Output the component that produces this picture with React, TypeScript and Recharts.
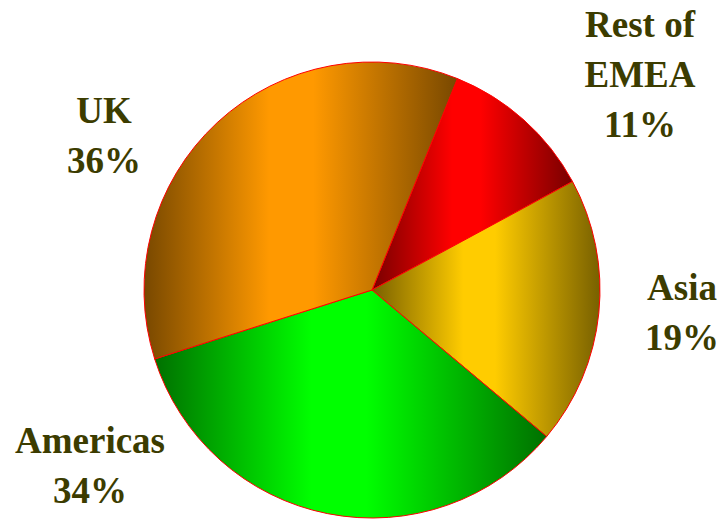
import { PieChart, Pie, Cell } from "recharts"

// regions, clockwise from the top
const regions = ["Rest of\nEMEA", "Asia", "Americas", "UK"]
const shares = [11, 19, 34, 36]

const brightColors = ["#FF0000", "#FFCC00", "#00FF00", "#FF9900"]
const darkColors = ["#780000", "#786000", "#007000", "#784800"]

// label anchor relative to pie centre: [dx, first baseline dy]
const labelOffsets = [
    [268, -253],
    [310, 10],
    [-282, 163],
    [-268, -167],
]

const data = regions.map((name, i) => ({ name, value: shares[i] }))

const renderLabel = (props: any) => {
    const { cx, cy, index, percent, name } = props
    const [dx, dy] = labelOffsets[index]
    const lines = [...String(name).split("\n"), `${Math.round(percent * 100)}%`]
    return (
        <text
            x={cx + dx}
            y={cy + dy}
            textAnchor="middle"
            fill="#3C3C00"
            fontFamily="'Liberation Serif', 'Times New Roman', serif"
            fontWeight="bold"
            fontSize={37}
        >
            {lines.map((line, i) => (
                <tspan key={i} x={cx + dx} dy={i === 0 ? 0 : 50}>
                    {line}
                </tspan>
            ))}
        </text>
    )
}

export default function App() {
    return (
        <div style={{ position: "absolute", left: 0, top: 0, width: 728, height: 519, background: "#fff" }}>
            <PieChart width={728} height={519} margin={{ top: 0, right: 0, bottom: 0, left: 0 }}>
                <defs>
                    {regions.map((_, i) => (
                        <linearGradient key={i} id={`slice-${i}`} x1="0" y1="0" x2="1" y2="0">
                            <stop offset="0%" stopColor={darkColors[i]} />
                            <stop offset="40%" stopColor={brightColors[i]} />
                            <stop offset="54%" stopColor={brightColors[i]} />
                            <stop offset="100%" stopColor={darkColors[i]} />
                        </linearGradient>
                    ))}
                </defs>
                <Pie
                    data={data}
                    dataKey="value"
                    nameKey="name"
                    cx={372}
                    cy={290}
                    innerRadius={0}
                    outerRadius={228}
                    startAngle={68}
                    endAngle={-292}
                    stroke="#FF0000"
                    strokeWidth={1}
                    label={renderLabel}
                    labelLine={false}
                    isAnimationActive={false}
                >
                    {data.map((entry, index) => (
                        <Cell key={`cell-${index}`} fill={`url(#slice-${index})`} />
                    ))}
                </Pie>
            </PieChart>
        </div>
    )
}
